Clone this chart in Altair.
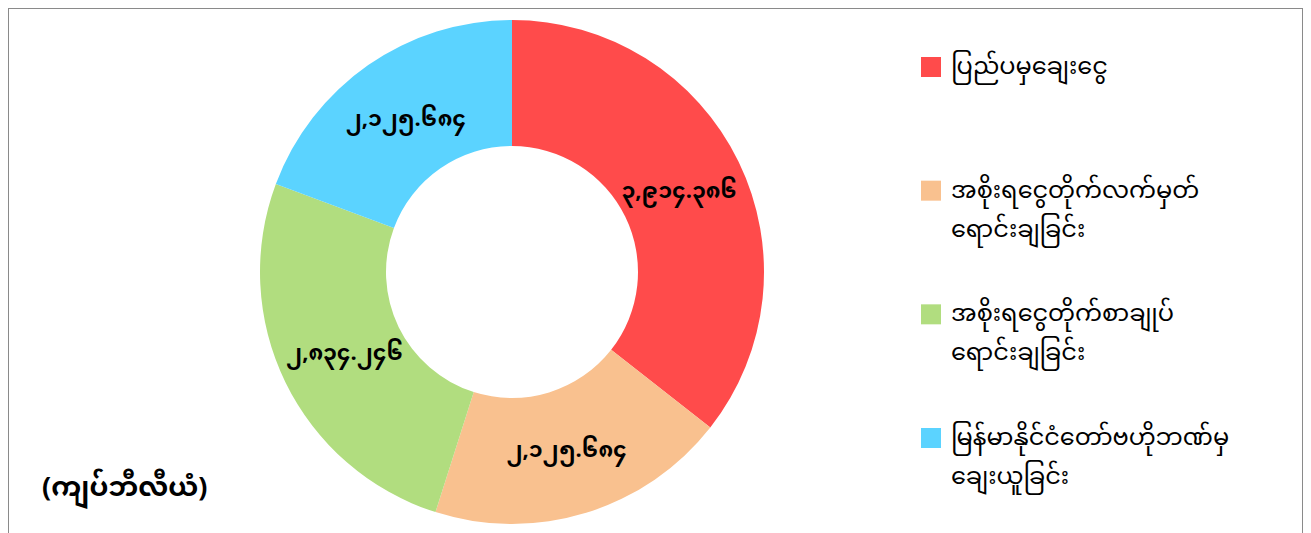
import altair as alt
import pandas as pd

categories = [
    "ပြည်ပမှချေးငွေ",
    "အစိုးရငွေတိုက်လက်မှတ်\nရောင်းချခြင်း",
    "အစိုးရငွေတိုက်စာချုပ်\nရောင်းချခြင်း",
    "မြန်မာနိုင်ငံတော်ဗဟိုဘဏ်မှ\nချေးယူခြင်း",
]
values = [3914.386, 2125.684, 2834.246, 2125.684]
value_labels = ["၃,၉၁၄.၃၈၆", "၂,၁၂၅.၆၈၄", "၂,၈၃၄.၂၄၆", "၂,၁၂၅.၆၈၄"]
colors = ["#FF4B4B", "#F9C18F", "#B1DD7F", "#5BD3FF"]
unit_label = "(ကျပ်ဘီလီယံ)"

df = pd.DataFrame({
    "cat": categories,
    "value": values,
    "label": value_labels,
    "idx": list(range(len(categories))),
})

FONT = "Noto Sans Myanmar, Padauk, Myanmar Text, Noto Sans"
cx, cy = 504, 264
color_scale = alt.Scale(domain=categories, range=colors)

base = alt.Chart(df).encode(
    theta=alt.Theta("value:Q", stack=True),
    order=alt.Order("idx:Q"),
    x=alt.value(cx),
    y=alt.value(cy),
)

arcs = base.mark_arc(outerRadius=252, innerRadius=126, stroke=None).encode(
    color=alt.Color("cat:N", scale=color_scale, legend=None)
)

texts = base.mark_text(radius=186, font=FONT, fontSize=22, fontWeight="bold", color="#000").encode(
    text="label:N"
)

# legend built from the same data
leg_y = alt.Y("idx:Q", scale=alt.Scale(domain=[0, 3], range=[59, 430]), axis=None)

leg_sym = alt.Chart(df).mark_square(size=400, opacity=1, strokeWidth=0).encode(
    x=alt.value(923),
    y=leg_y,
    color=alt.Color("cat:N", scale=color_scale, legend=None),
)

leg_txt = alt.Chart(df).transform_calculate(
    lines="split(datum.cat, '\\n')"
).mark_text(
    font=FONT, fontSize=24, align="left", baseline="middle", lineHeight=39, color="#000"
).encode(
    x=alt.value(943),
    y=leg_y,
    text="lines:N",
)

unit = alt.Chart(pd.DataFrame({"t": [unit_label]})).mark_text(
    font=FONT, fontSize=27, fontWeight="bold", align="left", color="#000"
).encode(text="t:N", x=alt.value(34), y=alt.value(480))

chart = (
    alt.layer(arcs, texts, leg_sym, leg_txt, unit)
    .properties(
        width=1295,
        height=530,
        autosize=alt.AutoSizeParams(type="fit", contains="padding"),
        padding=0,
    )
    .configure_view(stroke="#8a8a8a", strokeWidth=2)
)

chart.save("out.html", embed_options={"renderer": "svg", "actions": False})
